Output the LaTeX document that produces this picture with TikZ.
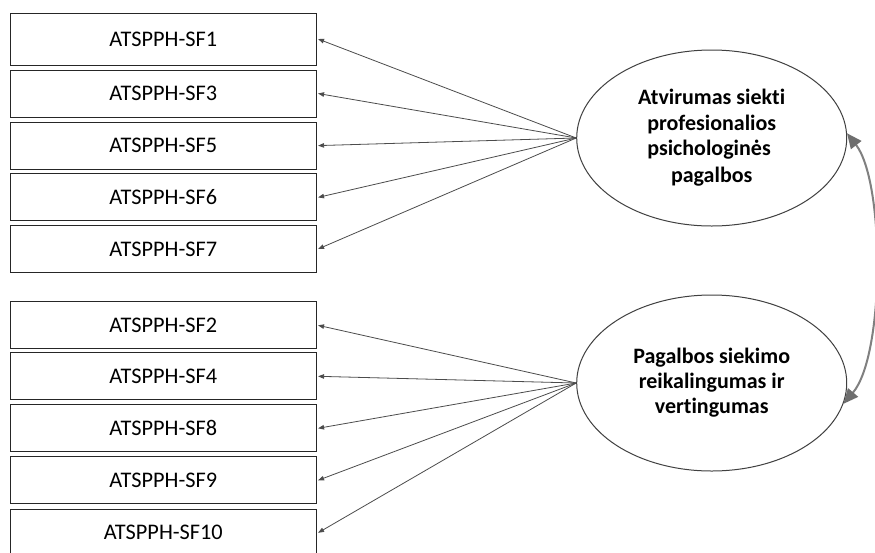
\documentclass[tikz,border=0pt]{standalone}
\usepackage{fontspec}
\setmainfont{Carlito}[Ligatures=NoCommon]
\usetikzlibrary{arrows.meta,shapes.geometric}
\begin{document}
\begin{tikzpicture}[x=1pt,y=-1pt,
  itembox/.style={draw=black!85,line width=0.9pt,minimum width=306pt,minimum height=47pt,inner sep=0pt,font=\fontsize{22.3}{24}\selectfont},
  latent/.style={draw=black!75,line width=1pt,ellipse,minimum width=270pt,minimum height=176pt,inner sep=0pt,align=center,font=\bfseries\fontsize{22}{23.6}\selectfont},
  load/.style={draw=black!70,line width=0.8pt,-{Triangle[length=6pt,width=4.5pt]}},
  cov/.style={draw=black!50,line width=2pt,{Triangle[length=15pt,width=13pt,fill=black!57,color=black!57]}-{Triangle[length=15pt,width=13pt,fill=black!57,color=black!57]}}
]
\useasboundingbox (0,0) rectangle (875,552);
\clip (0,0) rectangle (875,552);
\fill[white] (0,0) rectangle (875,552);
% top group
\node[itembox,minimum height=52pt] (b1) at (163.3,39) {ATSPPH-SF1};
\node[itembox] (b3) at (163.3,93.5) {ATSPPH-SF3};
\node[itembox] (b5) at (163.3,145.6) {ATSPPH-SF5};
\node[itembox] (b6) at (163.3,197.4) {ATSPPH-SF6};
\node[itembox] (b7) at (163.3,249) {ATSPPH-SF7};
% bottom group
\node[itembox] (b2) at (163.3,325.3) {ATSPPH-SF2};
\node[itembox] (b4) at (163.3,376.3) {ATSPPH-SF4};
\node[itembox] (b8) at (163.3,428.3) {ATSPPH-SF8};
\node[itembox] (b9) at (163.3,480.3) {ATSPPH-SF9};
\node[itembox] (b10) at (163.3,532.8) {ATSPPH-SF10};
% latent factors
\node[latent] (e1) at (711.7,138) {Atvirumas siekti\\[1.5pt]profesionalios\\[1.5pt]psichologinės\hphantom{i}\\[4pt]pagalbos};
\node[latent] (e2) at (711.7,383) {Pagalbos siekimo\\[1.5pt]reikalingumas ir\\[1.5pt]vertingumas};
% loadings
\foreach \b in {b1,b3,b5,b6,b7} \draw[load] (e1.west) -- ([xshift=1.3pt]\b.east);
\foreach \b in {b2,b4,b8,b9,b10} \draw[load] (e2.west) -- ([xshift=1.3pt]\b.east);
% covariance
\draw[cov] (e1.2) .. controls (885,182) and (885,355) .. (e2.-9);
\end{tikzpicture}
\end{document}
